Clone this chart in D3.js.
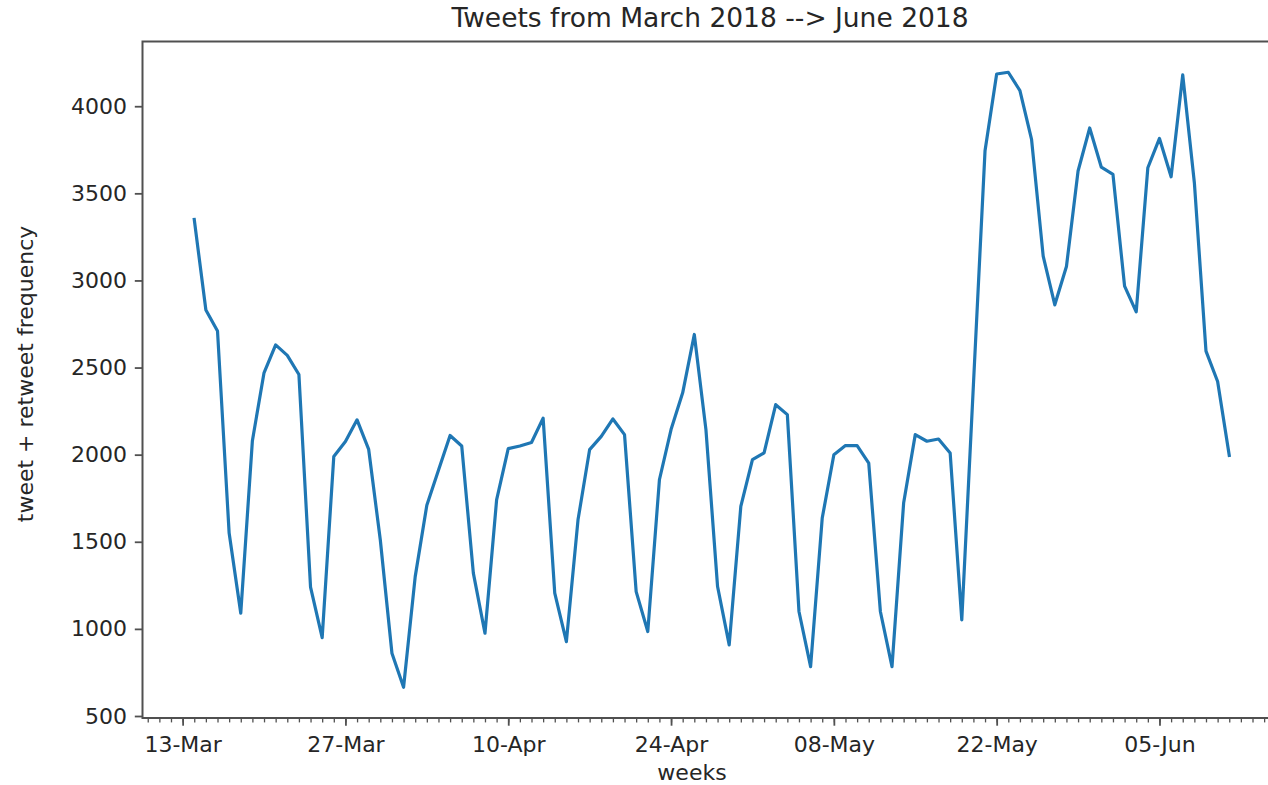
<!DOCTYPE html>
<html>
<head>
<meta charset="utf-8">
<script src="https://cdn.jsdelivr.net/npm/d3@7/dist/d3.min.js"></script>
<style>
  html, body { margin: 0; padding: 0; background: #fff; overflow: hidden; }
  svg { display: block; font-family: "DejaVu Sans", sans-serif; }
</style>
</head>
<body>
<svg id="chart" width="1268" height="785"></svg>
<script>
// ---- data ----
const startDate = "2018-03-14";           // first daily observation
const frequency = [
  3350, 2830, 2710, 1550, 1090, 2080, 2470, 2630, 2570, 2460,
  1240,  950, 1990, 2075, 2200, 2030, 1510,  860,  665, 1300,
  1710, 1910, 2110, 2050, 1320,  975, 1740, 2035, 2050, 2070,
  2210, 1205,  927, 1626, 2029, 2105, 2205, 2115, 1214,  985,
  1856, 2144, 2355, 2690, 2144, 1243,  908, 1703, 1971, 2010,
  2287, 2230, 1100,  783, 1636, 2000, 2052, 2052, 1952, 1100,
   783, 1722, 2115, 2077, 2090, 2010, 1052, 2400, 3745, 4185,
  4195, 4090, 3810, 3140, 2860, 3080, 3628, 3875, 3650, 3609,
  2967, 2820, 3647, 3815, 3595, 4180, 3561, 2594, 2420, 1995
];
const majorTickDates = ["2018-03-13", "2018-03-27", "2018-04-10", "2018-04-24",
                        "2018-05-08", "2018-05-22", "2018-06-05"];
const yTicks = [500, 1000, 1500, 2000, 2500, 3000, 3500, 4000];
const titleText = "Tweets from March 2018 --> June 2018";
const xLabelText = "weeks";
const yLabelText = "tweet + retweet frequency";

// ---- build ----
(function () {
const parse = d3.utcParse("%Y-%m-%d");
const t0 = parse(startDate);
const series = frequency.map((v, i) => ({ date: d3.utcDay.offset(t0, i), value: v }));

const pLeft = 142.5, pRight = 1281, pTop = 41.5, pBottom = 718;
const svg = d3.select("#chart");

const dExt = d3.extent(series, d => d.date);
const dPad = (dExt[1] - dExt[0]) * 0.05;
const x = d3.scaleUtc()
  .domain([new Date(+dExt[0] - dPad), new Date(+dExt[1] + dPad)])
  .range([pLeft, pRight]);

const vExt = d3.extent(series, d => d.value);
const vPad = (vExt[1] - vExt[0]) * 0.05;
const y = d3.scaleLinear()
  .domain([vExt[0] - vPad, vExt[1] + vPad])
  .range([pBottom, pTop]);

const ink = "#262626";
const spine = "#505050";

// minor x ticks (daily)
const minor = d3.utcDay.range(x.domain()[0], x.domain()[1]);
const xMinor = d3.axisBottom(x).tickValues(minor).tickSize(4.4).tickFormat("");
const gMinor = svg.append("g").attr("transform", `translate(0,${pBottom})`).call(xMinor);
gMinor.select(".domain").remove();
gMinor.selectAll("line").attr("stroke", spine).attr("stroke-width", 1.3);

// major x ticks
const xMajor = d3.axisBottom(x)
  .tickValues(majorTickDates.map(parse))
  .tickSize(7.7).tickPadding(11)
  .tickFormat(d3.utcFormat("%d-%b"));
const gx = svg.append("g").attr("transform", `translate(0,${pBottom})`).call(xMajor);
gx.select(".domain").remove();
gx.selectAll("line").attr("stroke", spine).attr("stroke-width", 1.8);
gx.selectAll("text").attr("fill", ink).attr("font-size", 22)
  .attr("font-family", "DejaVu Sans");

// y axis
const yAxis = d3.axisLeft(y).tickValues(yTicks).tickSize(7.7).tickPadding(7.7)
  .tickFormat(d3.format("d"));
const gy = svg.append("g").attr("transform", `translate(${pLeft},0)`).call(yAxis);
gy.select(".domain").remove();
gy.selectAll("line").attr("stroke", spine).attr("stroke-width", 1.8);
gy.selectAll("text").attr("fill", ink).attr("font-size", 22)
  .attr("font-family", "DejaVu Sans");

// data line
const line = d3.line().x(d => x(d.date)).y(d => y(d.value));
svg.append("path").datum(series)
  .attr("d", line)
  .attr("fill", "none")
  .attr("stroke", "#1f77b4")
  .attr("stroke-width", 3.2)
  .attr("stroke-linejoin", "round")
  .attr("stroke-linecap", "square");

// spines
svg.append("rect")
  .attr("x", pLeft).attr("y", pTop)
  .attr("width", pRight - pLeft).attr("height", pBottom - pTop)
  .attr("fill", "none").attr("stroke", spine).attr("stroke-width", 2);

// title and labels
svg.append("text").attr("x", 710).attr("y", 27)
  .attr("text-anchor", "middle").attr("font-size", 26.5).attr("fill", ink)
  .text(titleText);
svg.append("text").attr("x", 692).attr("y", 780)
  .attr("text-anchor", "middle").attr("font-size", 22).attr("fill", ink)
  .text(xLabelText);
svg.append("text")
  .attr("transform", "translate(33,374) rotate(-90)")
  .attr("text-anchor", "middle").attr("font-size", 22).attr("fill", ink)
  .text(yLabelText);
})();
</script>
</body>
</html>
